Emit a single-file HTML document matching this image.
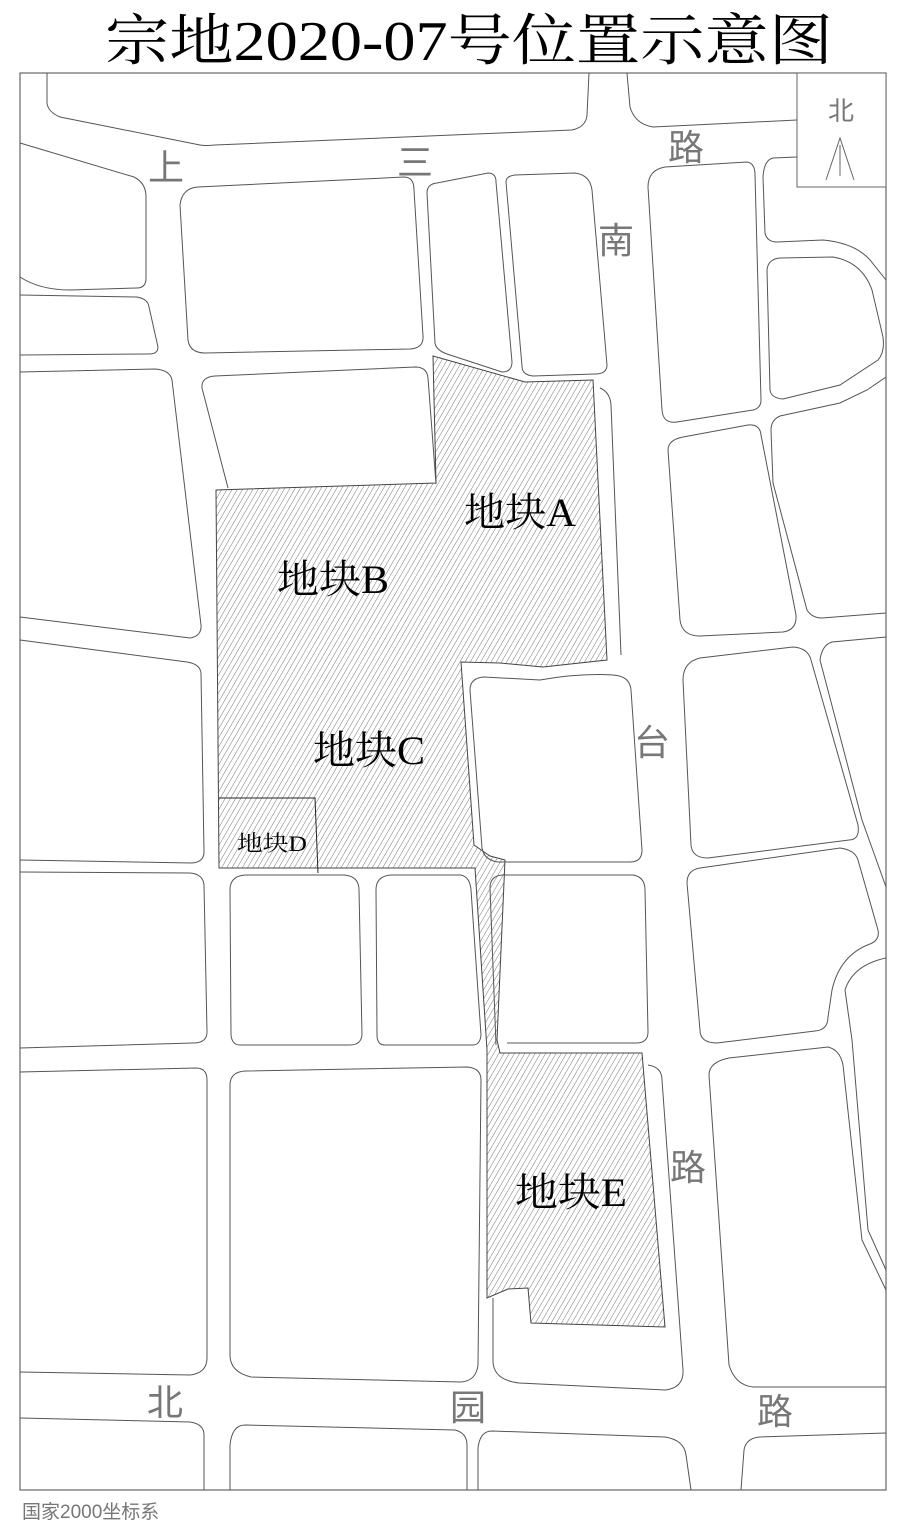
<!DOCTYPE html>
<html><head><meta charset="utf-8"><style>
html,body{margin:0;padding:0;background:#fff;}
svg{display:block;}
.r{fill:none;stroke:#555;stroke-width:1;}
.lbl{font-family:"Liberation Sans","Noto Sans CJK SC",sans-serif;fill:#777;font-size:36px;text-anchor:middle;}
.pl{font-family:"Liberation Serif","Noto Serif CJK SC",serif;fill:#000;font-size:40px;text-anchor:middle;}
</style></head><body>
<svg width="904" height="1534" viewBox="0 0 904 1534" xmlns="http://www.w3.org/2000/svg">
<defs>
<pattern id="h" patternUnits="userSpaceOnUse" width="4.5" height="4.5" patternTransform="rotate(30)">
<line x1="0" y1="0" x2="0" y2="4.5" stroke="#555" stroke-width="0.8"/>
</pattern>
</defs>
<rect width="904" height="1534" fill="#fff"/>
<text x="469" y="60" font-family="'Liberation Serif','Noto Serif CJK SC',serif" font-size="56" text-anchor="middle" textLength="728" lengthAdjust="spacingAndGlyphs" fill="#000">宗地2020-07号位置示意图</text>
<rect x="20" y="73" width="866" height="1417" fill="none" stroke="#666" stroke-width="1.2"/>

<path d="M433,356 L525,382 L593,380 L607,660 L543,667 L500,663 L461,662 L474,845 L490,856 L505,860 L497,1040 L500,1053 L642,1053 L665,1327 L531,1323 L528,1288 L508,1289 L487,1298 L487,1050 L475,868 L219,868 L216,490 L436,483 Z" fill="url(#h)" stroke="#444" stroke-width="1"/>
<polyline points="219,798 315,798 318,873" fill="none" stroke="#222" stroke-width="1"/>

<g class="r">
<path d="M47,73 L47,103 Q48,112 60,117 L200,145 Q205,146 215,145 L572,130 Q586,127 587,115 L589,73"/>
<path d="M627,73 L630,107 Q635,124 653,127 L797,120"/>
<path d="M20,143 L134,177 Q146,183 146,197 L146,278 Q146,288 137,288 L70,290 Q40,290 20,277"/>
<path d="M20,295 L137,297 Q148,299 149,307 L158,347 Q158,354 149,354 L20,355"/>
<path d="M20,372 L155,369 Q170,370 172,380 L201,625 Q202,636 190,638 L20,617"/>
<path d="M20,640 L187,662 Q200,664 201,673 L204,852 Q204,862 192,863 L20,860"/>
<path d="M20,872 L190,873 Q203,874 204,885 L207,1032 Q207,1043 193,1043 L20,1048"/>
<path d="M20,1072 L196,1068 Q207,1068 207,1080 L207,1358 Q207,1373 190,1375 L20,1372"/>
<path d="M20,1418 L190,1422 Q204,1424 204,1435 L204,1490"/>
<path d="M180,205 Q182,188 198,187 L404,177 Q414,177 414,190 L423,336 Q424,348 410,349 L205,353 Q190,353 188,340 Z"/>
<path d="M427,193 Q427,184 437,183 L488,173 Q496,173 496,182 L512,362 Q512,372 502,372 L447,354 Q436,350 435,343 Z"/>
<path d="M506,182 Q506,176 515,175 L575,173 Q590,175 592,190 L607,365 Q607,374 595,374 L533,376 Q522,375 522,366 Z"/>
<path d="M228,488 L202,388 Q201,377 215,376 L415,367 Q427,367 428,378 L436,484"/>
<path d="M600,388 Q610,392 611,405 L621,655"/>
<path d="M470,690 Q470,678 484,677 L540,680 Q580,673 613,675 Q630,676 631,690 L642,850 Q642,862 630,862 L498,862 Q484,860 482,848 Z"/>
<path d="M496,1045 L490,888 Q490,876 502,875 L633,875 Q645,877 645,890 L648,1032 Q648,1043 636,1043 L507,1043"/>
<path d="M230,890 Q230,876 245,875 L344,875 Q359,876 359,890 L362,1035 Q361,1045 350,1045 L240,1045 Q232,1045 231,1035 Z"/>
<path d="M376,890 Q376,876 391,875 L461,875 Q470,877 471,890 L481,1035 Q480,1045 473,1045 L385,1045 Q377,1045 377,1035 Z"/>
<path d="M230,1085 Q230,1072 245,1071 L467,1067 Q481,1068 481,1080 L478,1365 Q476,1381 461,1382 L251,1377 Q230,1372 230,1355 Z"/>
<path d="M230,1490 L230,1445 Q232,1425 245,1425 L455,1430 Q467,1433 467,1445 L467,1490"/>
<path d="M478,1490 L478,1448 Q480,1431 492,1431 L665,1437 Q684,1440 686,1455 L691,1490"/>
<path d="M741,1490 L744,1450 Q746,1438 760,1437 L886,1433"/>
<path d="M648,1065 Q662,1067 662,1080 L683,1370 Q684,1388 665,1390 L519,1383 Q494,1380 493,1362 L493,1298"/>
<path d="M648,187 Q648,170 665,167 L747,162 Q755,163 755,175 L761,400 Q761,408 753,410 L677,422 Q663,424 662,410 Z"/>
<path d="M668,450 Q668,440 683,437 L748,425 Q760,424 761,435 L796,615 Q797,630 783,632 L700,636 Q682,636 680,620 Z"/>
<path d="M683,680 Q683,662 700,658 L793,647 Q808,648 811,660 L858,825 Q860,840 849,840 L708,858 Q692,858 691,845 Z"/>
<path d="M687,883 Q687,870 700,868 L840,848 Q855,850 858,860 L878,930 Q880,940 870,944 Q840,955 832,990 L828,1017 Q828,1030 815,1031 L717,1043 Q700,1043 700,1030 Z"/>
<path d="M886,958 Q853,965 845,990 L852,1040 L868,1230 L886,1270"/>
<path d="M886,1290 L862,1240 L843,1065 Q840,1050 828,1047 L729,1058 Q709,1062 709,1075 L729,1365 Q735,1385 753,1387 L886,1387"/>
<path d="M797,157 L773,158 Q764,160 763,177 L765,233 Q767,242 777,242 L823,240 Q855,243 870,260 L886,280"/>
<path d="M767,270 Q768,259 780,258 L833,257 Q862,262 872,290 L883,337 Q885,352 878,360 L840,385 L783,399 Q771,398 770,390 Z"/>
<path d="M886,377 L867,390 L840,403 L780,416 Q771,420 771,430 L773,483 L807,610 Q812,618 822,618 L886,613"/>
<path d="M886,637 L832,642 Q822,645 820,660 L862,820 L886,887"/>
</g>

<rect x="797" y="73" width="89" height="114" fill="#fff" stroke="#666" stroke-width="1"/>
<text x="841" y="120" class="lbl" style="font-size:26px">北</text>
<polyline points="826,180 840,138 854,180" fill="none" stroke="#666" stroke-width="1"/>
<line x1="840" y1="145" x2="840" y2="176" stroke="#666" stroke-width="1"/>

<text class="lbl" x="166" y="180">上</text>
<text class="lbl" x="415" y="175">三</text>
<text class="lbl" x="686" y="160">路</text>
<text class="lbl" x="616" y="253">南</text>
<text class="lbl" x="652" y="755">台</text>
<text class="lbl" x="688" y="1180">路</text>
<text class="lbl" x="165" y="1415">北</text>
<text class="lbl" x="468" y="1420">园</text>
<text class="lbl" x="775" y="1424">路</text>

<text class="pl" x="520" y="526" textLength="112" lengthAdjust="spacingAndGlyphs">地块A</text>
<text class="pl" x="333" y="593" textLength="112" lengthAdjust="spacingAndGlyphs">地块B</text>
<text class="pl" x="369" y="764" textLength="112" lengthAdjust="spacingAndGlyphs">地块C</text>
<text class="pl" x="272" y="851" style="font-size:22px" textLength="70" lengthAdjust="spacingAndGlyphs">地块D</text>
<text class="pl" x="571" y="1206" textLength="112" lengthAdjust="spacingAndGlyphs">地块E</text>

<text x="22" y="1518" font-family="'Liberation Sans','Noto Sans CJK SC',sans-serif" font-size="19" fill="#777">国家2000坐标系</text>
</svg>
</body></html>
